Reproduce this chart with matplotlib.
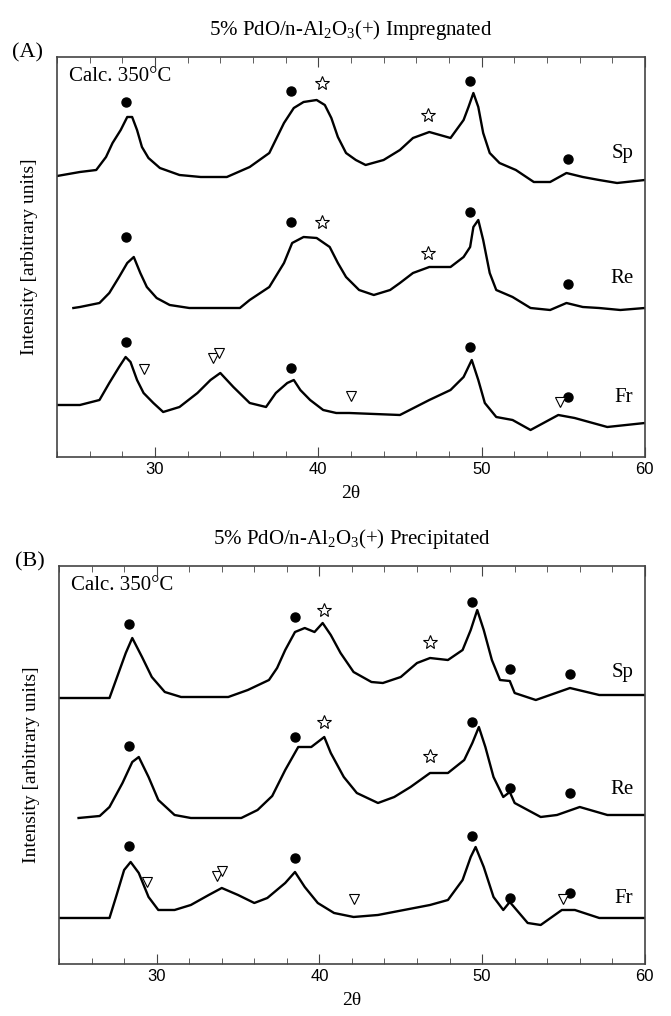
import matplotlib.pyplot as plt
from matplotlib.ticker import MultipleLocator

plt.rcParams['font.family'] = ['Liberation Serif', 'DejaVu Serif']
plt.rcParams['mathtext.fontset'] = 'custom'
plt.rcParams['mathtext.rm'] = 'Liberation Serif'
plt.rcParams['mathtext.it'] = 'Liberation Serif:italic'

# ---- panel A : impregnated (heights in arbitrary units)
a_sp_x = [24.0, 25.4, 26.4, 27.0, 27.4, 27.9, 28.3, 28.6, 28.9, 29.2, 29.6, 30.3, 31.5,
          32.8, 34.4, 35.8, 37.0, 37.9, 38.5, 39.1, 39.9, 40.4, 40.8, 41.2, 41.7, 42.3,
          42.9, 44.0, 45.0, 45.8, 46.8, 48.1, 48.9, 49.2, 49.5, 49.8, 50.1, 50.5, 51.1,
          52.1, 53.2, 54.2, 55.2, 56.2, 57.2, 58.3, 60.0]
a_sp_y = [281, 285, 287, 300, 314, 327, 340, 340, 327, 310, 299, 289, 282,
          280, 280, 290, 304, 334, 349, 355, 357, 352, 339, 320, 304, 297,
          292, 297, 307, 319, 325, 319, 337, 350, 364, 350, 324, 304, 294,
          287, 275, 275, 284, 280, 277, 274, 277]

a_re_x = [25.0, 25.4, 26.6, 27.2, 27.8, 28.3, 28.7, 29.1, 29.5, 30.1, 30.9, 32.1, 35.2,
          35.8, 37.0, 37.9, 38.4, 39.1, 39.9, 40.7, 41.2, 41.7, 42.5, 43.4, 44.4, 45.0,
          45.8, 46.8, 48.1, 48.9, 49.3, 49.5, 49.8, 50.1, 50.5, 50.9, 51.9, 53.0, 54.2,
          55.2, 56.2, 57.2, 58.5, 60.0]
a_re_y = [149, 150, 154, 164, 180, 194, 200, 184, 170, 159, 152, 149, 149,
          157, 170, 194, 214, 220, 219, 210, 194, 180, 167, 162, 167, 174,
          184, 190, 190, 200, 210, 230, 237, 217, 184, 167, 160, 149, 147,
          154, 150, 149, 147, 149]

a_fr_x = [24.0, 25.4, 26.6, 27.2, 27.8, 28.2, 28.5, 28.9, 29.3, 29.9, 30.5, 31.5, 32.6,
          33.4, 34.0, 34.8, 35.8, 36.8, 37.4, 38.1, 38.5, 38.9, 39.5, 40.3, 41.1, 41.9,
          45.0, 46.8, 48.1, 48.9, 49.4, 49.8, 50.2, 50.9, 51.9, 53.0, 54.7, 55.7, 57.7, 60.0]
a_fr_y = [52, 52, 57, 74, 90, 100, 95, 77, 64, 54, 45, 50, 64,
          77, 84, 70, 54, 50, 64, 74, 77, 67, 57, 47, 44, 44,
          42, 57, 67, 80, 97, 77, 54, 40, 37, 27, 42, 39, 30, 34]

# ---- panel B : precipitated
b_sp_x = [24.0, 25.5, 27.1, 27.5, 28.1, 28.5, 29.1, 29.7, 30.5, 31.5, 34.4, 35.6, 36.9,
          37.4, 37.9, 38.5, 39.1, 39.7, 40.2, 40.7, 41.3, 42.1, 43.2, 43.9, 45.0, 46.0,
          46.8, 47.9, 48.8, 49.3, 49.7, 50.1, 50.6, 51.1, 51.7, 52.0, 53.3, 55.4, 57.2, 60.0]
b_sp_y = [266, 266, 266, 284, 311, 326, 307, 287, 272, 267, 267, 274, 284,
          296, 314, 332, 336, 332, 341, 329, 311, 292, 282, 281, 287, 301,
          306, 304, 314, 334, 354, 334, 304, 284, 283, 271, 264, 276, 269, 269]

b_re_x = [25.2, 26.5, 27.1, 27.9, 28.5, 28.9, 29.5, 30.1, 31.1, 32.1, 35.2, 36.2, 37.1,
          37.9, 38.7, 39.5, 40.3, 40.7, 41.5, 42.3, 43.6, 44.6, 45.6, 46.8, 47.9, 48.9,
          49.4, 49.8, 50.2, 50.7, 51.3, 51.7, 52.0, 53.6, 54.6, 56.0, 57.7, 60.0]
b_re_y = [146, 148, 157, 181, 202, 207, 187, 164, 149, 146, 146, 154, 168,
          194, 217, 217, 227, 211, 187, 171, 161, 167, 177, 191, 191, 204,
          221, 237, 217, 187, 167, 172, 161, 147, 149, 157, 149, 149]

b_fr_x = [24.0, 25.5, 27.1, 27.5, 28.0, 28.4, 28.9, 29.5, 30.1, 31.1, 32.1, 33.2, 34.0,
          35.0, 36.0, 36.8, 37.9, 38.5, 39.1, 39.9, 40.9, 42.1, 43.6, 45.2, 46.8, 47.9,
          48.8, 49.3, 49.6, 50.1, 50.7, 51.3, 51.7, 52.8, 53.6, 54.9, 55.7, 57.2, 60.0]
b_fr_y = [46, 46, 46, 67, 94, 102, 91, 67, 54, 54, 59, 69, 76,
          69, 61, 66, 81, 92, 77, 61, 51, 47, 49, 54, 59, 64,
          84, 107, 117, 97, 67, 54, 62, 41, 39, 54, 54, 46, 46]

# ---- peak markers (2theta, height)
a_dots = [(28.2, 355), (38.3, 366), (49.3, 376), (55.3, 298),
          (28.2, 220), (38.3, 235), (49.3, 245), (55.3, 173),
          (28.2, 115), (38.3, 89), (49.3, 110), (55.3, 60)]
a_stars = [(40.2, 374), (46.7, 342), (40.2, 235), (46.7, 204)]
a_tris = [(29.3, 88), (33.55, 99), (33.9, 104), (42.0, 61), (54.8, 55)]

b_dots = [(28.3, 340), (38.5, 347), (49.4, 362), (51.7, 295), (55.4, 290),
          (28.3, 218), (38.5, 227), (49.4, 242), (51.7, 176), (55.4, 171),
          (28.3, 118), (38.5, 106), (49.4, 128), (51.7, 66), (55.4, 71)]
b_stars = [(40.3, 354), (46.8, 322), (40.3, 242), (46.8, 208)]
b_tris = [(29.4, 82), (33.7, 88), (34.0, 93), (42.1, 65), (55.0, 65)]

sample_labels = ['Sp', 'Re', 'Fr']
a_label_y = [303, 178, 59]
b_label_y = [292, 174, 65]


def draw_panel(ax, curves, dots, stars, tris, label_y, ymax, title, tag):
    for x, y in curves:
        ax.plot(x, y, color='black', lw=1.7)
    ax.plot([p[0] for p in dots], [p[1] for p in dots], 'o', color='black', ms=6.5)
    ax.plot([p[0] for p in stars], [p[1] for p in stars], '*', mfc='white',
            mec='black', mew=0.8, ms=10)
    ax.plot([p[0] for p in tris], [p[1] for p in tris], 'v', mfc='white',
            mec='black', mew=0.8, ms=6.5)
    for name, ly in zip(sample_labels, label_y):
        ax.text(59.3, ly, name, fontsize=15, va='center', ha='right')
    ax.text(0.02, 0.95, 'Calc. 350\u00b0C', transform=ax.transAxes, fontsize=15,
            va='center', ha='left')
    ax.text(-0.05, 1.01, tag, transform=ax.transAxes, fontsize=16, va='center', ha='center')
    ax.set_xlim(24, 60)
    ax.set_ylim(0, ymax)
    ax.set_yticks([])
    ax.xaxis.set_major_locator(MultipleLocator(10))
    ax.xaxis.set_minor_locator(MultipleLocator(2))
    ax.tick_params(axis='x', which='both', direction='in', top=True, labelsize=12,
                   color='#444444')
    ax.tick_params(axis='x', which='major', length=7)
    ax.tick_params(axis='x', which='minor', length=4)
    for lab in ax.get_xticklabels():
        lab.set_family('Liberation Sans')
    for sp in ax.spines.values():
        sp.set_linewidth(1.2)
        sp.set_color('#444444')
    ax.set_xlabel('2\u03b8', fontsize=14, labelpad=6)
    ax.set_ylabel('Intensity [arbitrary units]', fontsize=14, labelpad=14)
    ax.set_title(title, fontsize=15, pad=16)


fig = plt.figure(figsize=(6.71, 10.16), dpi=100)
ax1 = fig.add_axes([0.085, 0.5502, 0.876, 0.3937])
ax2 = fig.add_axes([0.088, 0.0512, 0.873, 0.3917])

draw_panel(ax1, [(a_sp_x, a_sp_y), (a_re_x, a_re_y), (a_fr_x, a_fr_y)],
           a_dots, a_stars, a_tris, a_label_y, 400,
           '5% PdO/n-Al$_2$O$_3$(+) Impregnated', '(A)')
draw_panel(ax2, [(b_sp_x, b_sp_y), (b_re_x, b_re_y), (b_fr_x, b_fr_y)],
           b_dots, b_stars, b_tris, b_label_y, 398,
           '5% PdO/n-Al$_2$O$_3$(+) Precipitated', '(B)')

fig.savefig('out.png', dpi=100)
